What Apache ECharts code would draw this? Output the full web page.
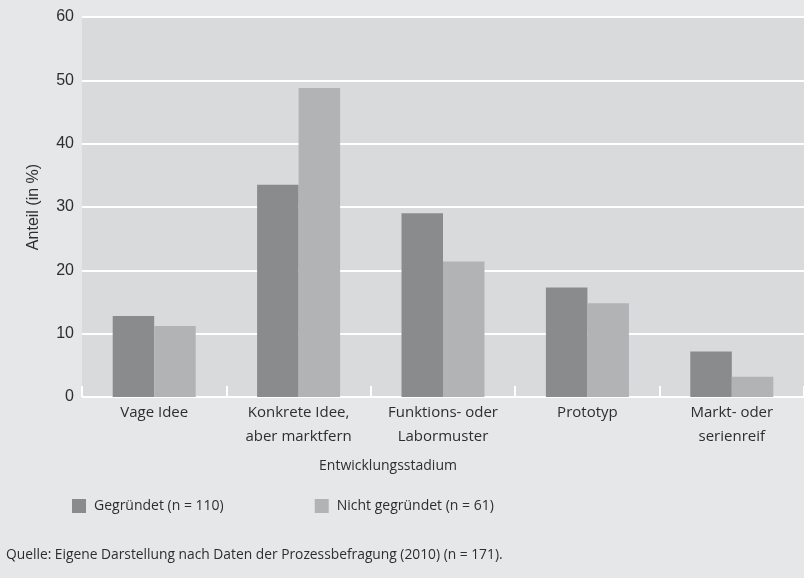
<!DOCTYPE html>
<html>
<head>
<meta charset="utf-8">
<script src="https://cdn.jsdelivr.net/npm/echarts@6/dist/echarts.min.js"></script>
<style>
  html, body { margin: 0; padding: 0; background: #e6e7e9; }
  #chart { width: 804px; height: 578px; }
</style>
</head>
<body>
<div id="chart"></div>
<script>
// Entwicklungsstadium der Gründungsidee – Anteile in Prozent
const categories = [
  'Vage Idee',
  'Konkrete Idee,\naber marktfern',
  'Funktions- oder\nLabormuster',
  'Prototyp',
  'Markt- oder\nserienreif'
];
const gegruendet = [12.8, 33.5, 29.0, 17.3, 7.2];
const nichtGegruendet = [11.2, 48.8, 21.4, 14.8, 3.2];
const seriesNames = ['Gegründet (n = 110)', 'Nicht gegründet (n = 61)'];
const yTicks = [0, 10, 20, 30, 40, 50, 60];

const labelFont = '"Open Sans", sans-serif';
const numberFont = '"Liberation Sans", Arial, sans-serif';
const textColor = '#2e2e2e';

const chart = echarts.init(document.getElementById('chart'));
chart.setOption({
  backgroundColor: '#e6e7e9',
  animation: false,
  grid: {
    left: 82, right: 0, top: 17, bottom: 181,
    show: true, backgroundColor: '#d9dadc', borderWidth: 0
  },
  legend: {
    left: 72, top: 499, padding: 0,
    itemWidth: 14, itemHeight: 14, itemGap: 91,
    icon: 'rect',
    textStyle: { fontFamily: labelFont, fontSize: 14, color: textColor, padding: [0, 0, 0, 3] },
    data: seriesNames
  },
  xAxis: {
    type: 'category',
    data: categories,
    axisLine: { show: false },
    axisTick: { show: true, inside: true, interval: 0, length: 11, lineStyle: { color: '#ffffff', width: 2 } },
    axisLabel: {
      interval: 0,
      fontFamily: labelFont, fontSize: 15, color: textColor,
      lineHeight: 24, margin: 4
    }
  },
  yAxis: {
    type: 'value',
    min: yTicks[0], max: yTicks[yTicks.length - 1], interval: 10,
    name: 'Anteil (in %)',
    nameLocation: 'middle',
    nameGap: 40,
    nameTextStyle: { fontFamily: numberFont, fontSize: 16, color: textColor },
    axisLine: { show: false },
    axisTick: { show: false },
    axisLabel: { fontFamily: numberFont, fontSize: 16, color: textColor, margin: 8 },
    splitLine: { show: true, lineStyle: { color: '#ffffff', width: 2 } }
  },
  series: [
    {
      name: seriesNames[0], type: 'bar', data: gegruendet,
      barWidth: 41.5, barGap: '0%',
      itemStyle: { color: '#8a8b8d' }
    },
    {
      name: seriesNames[1], type: 'bar', data: nichtGegruendet,
      barWidth: 41.5, barGap: '0%',
      itemStyle: { color: '#b2b3b5' }
    }
  ],
  graphic: [
    {
      type: 'text', x: 388, y: 466,
      style: {
        text: 'Entwicklungsstadium', fontFamily: labelFont, fontSize: 14,
        fill: textColor, align: 'center', verticalAlign: 'middle'
      }
    },
    {
      type: 'text', x: 6, y: 555,
      style: {
        text: 'Quelle: Eigene Darstellung nach Daten der Prozessbefragung (2010) (n = 171).',
        fontFamily: labelFont, fontSize: 13.8, fill: textColor, verticalAlign: 'middle'
      }
    }
  ]
});
</script>
</body>
</html>
